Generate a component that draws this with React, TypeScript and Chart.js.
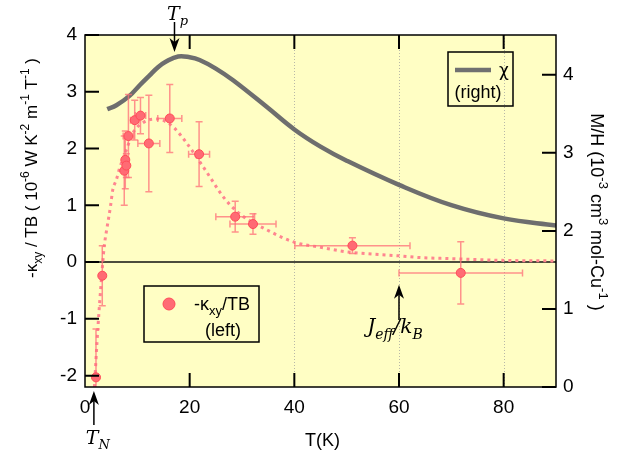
import { useEffect, useRef } from 'react';
import { Chart, registerables } from 'chart.js';
Chart.register(...registerables);

// -kappa_xy/TB data (left axis)
const kappaT = [2.1, 3.3, 7.5, 7.7, 7.9, 8.3, 9.5, 10.6, 12.2, 16.2, 21.8, 28.7, 32.1, 51.1, 71.8];
const kappaV = [-2.03, -0.24, 1.61, 1.8, 1.7, 2.22, 2.5, 2.58, 2.09, 2.53, 1.9, 0.8, 0.67, 0.29, -0.19];
const kappaErrY = [0.85, 0.53, 0.61, 0.51, 0.21, 0.73, 0.35, 0.32, 0.85, 0.6, 0.57, 0.27, 0.18, 0.14, 0.55];
const kappaErrX = [0.2, 0.2, 0.4, 0.4, 0.4, 1.0, 0.8, 1.0, 2.1, 2.3, 2.0, 3.7, 4.4, 11, 11.8];

// dotted guide curve (left axis)
const fitT = [1.8, 2.45, 3.4, 3.7, 4.2, 4.9, 5.3, 6.0, 6.6, 8, 9, 10, 11, 12, 14, 15.5, 17.1, 19.4, 23.8, 25.7, 27.7, 30, 34.7, 40, 45, 50, 55, 60, 64, 70, 80, 90];
const fitV = [-2.2, -1.18, 0, 0.3, 0.6, 1.0, 1.27, 1.45, 1.65, 2.0, 2.25, 2.38, 2.45, 2.5, 2.52, 2.47, 2.36, 2.1, 1.51, 1.24, 1.01, 0.82, 0.57, 0.35, 0.26, 0.18, 0.14, 0.11, 0.08, 0.06, 0.03, 0.02];

// chi = M/H (right axis)
const chiT = [4.25, 6, 8.5, 10.5, 12.3, 14, 15.5, 17.8, 20, 21.9, 25, 28.3, 34.7, 40, 45, 50, 60, 70, 80, 90];
const chiV = [3.56, 3.61, 3.73, 3.87, 3.99, 4.1, 4.17, 4.235, 4.225, 4.19, 4.08, 3.93, 3.59, 3.3, 3.08, 2.9, 2.59, 2.33, 2.16, 2.07];

const xTicks = [0, 20, 40, 60, 80];
const leftTicks = [-2, -1, 0, 1, 2, 3, 4];
const rightTicks = [0, 1, 2, 3, 4];
const gridLinesAt = [40, 60, 80];

const T_P = 17.1;
const T_N = 1.7;
const J_EFF = 60;

type Run = { t: string; s?: 'sup' | 'sub' };

function drawRuns(ctx: CanvasRenderingContext2D, runs: Run[], cx: number, by: number, angle: number, size: number, family: string, style = '', align: 'center' | 'left' = 'center') {
  ctx.save();
  ctx.translate(cx, by);
  ctx.rotate(angle);
  const small = Math.round(size * 0.7);
  const fontOf = (r: Run) => `${style} ${r.s ? small : size}px ${family}`;
  let total = 0;
  for (const r of runs) {
    ctx.font = fontOf(r);
    total += ctx.measureText(r.t).width;
  }
  let x = align === 'center' ? -total / 2 : 0;
  ctx.textBaseline = 'alphabetic';
  ctx.textAlign = 'left';
  ctx.fillStyle = '#000';
  for (const r of runs) {
    ctx.font = fontOf(r);
    const dy = r.s === 'sup' ? -size * 0.45 : r.s === 'sub' ? size * 0.28 : 0;
    ctx.fillText(r.t, x, dy);
    x += ctx.measureText(r.t).width;
  }
  ctx.restore();
}

function arrow(ctx: CanvasRenderingContext2D, x: number, yTail: number, yTip: number) {
  const dir = yTip > yTail ? 1 : -1;
  ctx.save();
  ctx.strokeStyle = '#000';
  ctx.fillStyle = '#000';
  ctx.lineWidth = 1.5;
  ctx.beginPath();
  ctx.moveTo(x, yTail);
  ctx.lineTo(x, yTip - dir * 10);
  ctx.stroke();
  ctx.beginPath();
  ctx.moveTo(x, yTip);
  ctx.lineTo(x - 5, yTip - dir * 14);
  ctx.lineTo(x, yTip - dir * 10);
  ctx.lineTo(x + 5, yTip - dir * 14);
  ctx.closePath();
  ctx.fill();
  ctx.restore();
}

const SANS = '"Liberation Sans", Arial, sans-serif';
const SERIF = '"DejaVu Serif", "Liberation Serif", serif';

const decor = {
  id: 'decor',
  beforeDatasetsDraw(chart: any) {
    const { ctx, chartArea: a, scales } = chart;
    const x = scales.x, y = scales.y;
    ctx.save();
    ctx.fillStyle = '#FFFEC4';
    ctx.fillRect(a.left, a.top, a.right - a.left, a.bottom - a.top);
    ctx.strokeStyle = '#b8b8a8';
    ctx.lineWidth = 1;
    ctx.setLineDash([1, 2]);
    for (const g of gridLinesAt) {
      const px = Math.round(x.getPixelForValue(g)) + 0.5;
      ctx.beginPath();
      ctx.moveTo(px, a.top);
      ctx.lineTo(px, a.bottom);
      ctx.stroke();
    }
    ctx.setLineDash([]);
    ctx.strokeStyle = '#111';
    ctx.lineWidth = 1.5;
    const y0 = y.getPixelForValue(0);
    ctx.beginPath();
    ctx.moveTo(a.left, y0);
    ctx.lineTo(a.right, y0);
    ctx.stroke();
    ctx.restore();
  },
  beforeDatasetDraw(chart: any, args: any) {
    if (args.index !== 0) return;
    const { ctx, chartArea: a, scales } = chart;
    const x = scales.x, y = scales.y;
    ctx.save();
    ctx.beginPath();
    ctx.rect(a.left, a.top, a.right - a.left, a.bottom - a.top);
    ctx.clip();
    ctx.strokeStyle = 'rgba(255,110,120,0.75)';
    ctx.lineWidth = 1.5;
    const cap = 3.5;
    for (let i = 0; i < kappaT.length; i++) {
      const px = x.getPixelForValue(kappaT[i]);
      const py = y.getPixelForValue(kappaV[i]);
      const yt = y.getPixelForValue(kappaV[i] + kappaErrY[i]);
      const yb = y.getPixelForValue(kappaV[i] - kappaErrY[i]);
      const xl = x.getPixelForValue(kappaT[i] - kappaErrX[i]);
      const xr = x.getPixelForValue(kappaT[i] + kappaErrX[i]);
      ctx.beginPath();
      ctx.moveTo(px, yt); ctx.lineTo(px, yb);
      ctx.moveTo(px - cap, yt); ctx.lineTo(px + cap, yt);
      ctx.moveTo(px - cap, yb); ctx.lineTo(px + cap, yb);
      ctx.moveTo(xl, py); ctx.lineTo(xr, py);
      ctx.moveTo(xl, py - cap); ctx.lineTo(xl, py + cap);
      ctx.moveTo(xr, py - cap); ctx.lineTo(xr, py + cap);
      ctx.stroke();
    }
    ctx.restore();
  },
  afterDraw(chart: any) {
    const { ctx, chartArea: a, scales } = chart;
    const x = scales.x, y = scales.y, y2 = scales.y2;
    ctx.save();
    ctx.strokeStyle = '#000';
    ctx.lineWidth = 1.5;
    ctx.strokeRect(a.left, a.top, a.right - a.left, a.bottom - a.top);
    ctx.lineWidth = 2;
    const tl = 14;
    ctx.beginPath();
    for (const t of xTicks) {
      if (t === 0) continue;
      const px = x.getPixelForValue(t);
      ctx.moveTo(px, a.top); ctx.lineTo(px, a.top + tl);
      ctx.moveTo(px, a.bottom); ctx.lineTo(px, a.bottom - tl);
    }
    for (const t of leftTicks) {
      const py = y.getPixelForValue(t);
      ctx.moveTo(a.left, py); ctx.lineTo(a.left + tl, py);
    }
    for (const t of rightTicks) {
      const py = y2.getPixelForValue(t);
      ctx.moveTo(a.right, py); ctx.lineTo(a.right - tl, py);
    }
    ctx.stroke();
    ctx.restore();

    const xp = x.getPixelForValue(T_P);
    arrow(ctx, xp, a.top - 13, a.top + 17);
    drawRuns(ctx, [{ t: 'T' }, { t: 'p', s: 'sub' }], xp + 3, a.top - 15, 0, 19, SERIF, 'italic');
    const xn = x.getPixelForValue(T_N);
    arrow(ctx, xn, a.bottom + 38, a.bottom + 4);
    drawRuns(ctx, [{ t: 'T' }, { t: 'N', s: 'sub' }], xn + 4, a.bottom + 57, 0, 19, SERIF, 'italic');
    const xj = x.getPixelForValue(J_EFF);
    arrow(ctx, xj, y.getPixelForValue(-1.02), y.getPixelForValue(-0.4));
    drawRuns(ctx, [{ t: 'J' }, { t: 'eff', s: 'sub' }, { t: '/k' }, { t: 'B', s: 'sub' }], xj - 4, y.getPixelForValue(-1.25), 0, 20, SERIF, 'italic');

    // legend: chi
    ctx.save();
    ctx.strokeStyle = '#000';
    ctx.lineWidth = 1.5;
    ctx.strokeRect(448, 52, 65, 54);
    ctx.strokeStyle = '#707070';
    ctx.lineWidth = 4.5;
    ctx.beginPath();
    ctx.moveTo(455, 70); ctx.lineTo(491, 70);
    ctx.stroke();
    ctx.fillStyle = '#000';
    ctx.font = `17px "DejaVu Sans", sans-serif`;
    ctx.textAlign = 'left';
    ctx.textBaseline = 'alphabetic';
    ctx.fillText('χ', 499, 76);
    ctx.font = `18px ${SANS}`;
    ctx.textAlign = 'center';
    ctx.fillText('(right)', 478, 98);
    // legend: kappa
    ctx.strokeStyle = '#000';
    ctx.lineWidth = 1.5;
    ctx.strokeRect(144, 286, 115, 56);
    ctx.fillStyle = '#FF6B74';
    ctx.strokeStyle = '#FF4B58';
    ctx.lineWidth = 1;
    ctx.beginPath();
    ctx.arc(169, 304, 6, 0, Math.PI * 2);
    ctx.fill();
    ctx.stroke();
    ctx.restore();
    drawRuns(ctx, [{ t: '-κ' }, { t: 'xy', s: 'sub' }, { t: '/TB' }], 194, 310, 0, 18, SANS, '', 'left');
    drawRuns(ctx, [{ t: '(left)' }], 223, 336, 0, 18, SANS);

    drawRuns(ctx, [{ t: 'T(K)' }], (a.left + a.right) / 2 + 2, 446, 0, 18, SANS);
    drawRuns(ctx, [
      { t: '-κ' }, { t: 'xy', s: 'sub' }, { t: ' / TB ( 10' }, { t: '-6', s: 'sup' },
      { t: ' W K' }, { t: '-2', s: 'sup' }, { t: ' m' }, { t: '-1', s: 'sup' },
      { t: ' T' }, { t: '-1', s: 'sup' }, { t: ' )' },
    ], 37, 168, -Math.PI / 2, 17, SANS);
    drawRuns(ctx, [
      { t: 'M/H (10' }, { t: '-3', s: 'sup' }, { t: ' cm' }, { t: '3', s: 'sup' },
      { t: ' mol-Cu' }, { t: '-1', s: 'sup' }, { t: ' )' },
    ], 591, 212, Math.PI / 2, 18, SANS);
  },
};

export default function App() {
  const ref = useRef<HTMLCanvasElement>(null);
  useEffect(() => {
    if (!ref.current) return;
    const chart = new Chart(ref.current, {
      type: 'scatter',
      data: {
        datasets: [
          {
            type: 'scatter',
            label: 'kappa',
            data: kappaT.map((t, i) => ({ x: t, y: kappaV[i] })),
            yAxisID: 'y',
            pointRadius: 4.5,
            pointBackgroundColor: '#FF6B74',
            pointBorderColor: '#FF4B58',
            pointBorderWidth: 1,
          },
          {
            type: 'line',
            label: 'fit',
            data: fitT.map((t, i) => ({ x: t, y: fitV[i] })),
            yAxisID: 'y',
            borderColor: '#FF8590',
            borderWidth: 3,
            borderDash: [3, 4],
            pointRadius: 0,
            cubicInterpolationMode: 'monotone',
            fill: false,
          },
          {
            type: 'line',
            label: 'chi',
            data: chiT.map((t, i) => ({ x: t, y: chiV[i] })),
            yAxisID: 'y2',
            borderColor: '#6E6E6E',
            borderWidth: 4.5,
            pointRadius: 0,
            tension: 0.4,
            fill: false,
          },
        ],
      } as any,
      options: {
        animation: false,
        responsive: false,
        maintainAspectRatio: false,
        layout: { padding: 0 },
        plugins: { legend: { display: false }, tooltip: { enabled: false } },
        scales: {
          x: {
            type: 'linear', position: 'bottom', min: 0, max: 90,
            afterBuildTicks: (s: any) => { s.ticks = xTicks.map((v) => ({ value: v })); },
            afterFit: (s: any) => { s.height = 63; },
            grid: { display: false, drawTicks: false },
            border: { display: false },
            ticks: { padding: 9, color: '#000', font: { size: 19, family: SANS }, maxRotation: 0 },
          },
          xTop: {
            type: 'linear', position: 'top', min: 0, max: 90,
            afterFit: (s: any) => { s.height = 35; },
            grid: { display: false, drawTicks: false },
            border: { display: false },
            ticks: { display: false },
          },
          y: {
            type: 'linear', position: 'left', min: -2.2, max: 4,
            afterBuildTicks: (s: any) => { s.ticks = leftTicks.map((v) => ({ value: v })); },
            afterFit: (s: any) => { s.width = 85; },
            grid: { display: false, drawTicks: false },
            border: { display: false },
            ticks: { padding: 8, color: '#000', font: { size: 19, family: SANS } },
          },
          y2: {
            type: 'linear', position: 'right', min: 0, max: 4.51,
            afterBuildTicks: (s: any) => { s.ticks = rightTicks.map((v) => ({ value: v })); },
            afterFit: (s: any) => { s.width = 71; },
            grid: { display: false, drawTicks: false },
            border: { display: false },
            ticks: { padding: 7, color: '#000', font: { size: 19, family: SANS } },
          },
        } as any,
      },
      plugins: [decor],
    });
    return () => chart.destroy();
  }, []);
  return (
    <div style={{ position: 'fixed', left: 0, top: 0, width: 627, height: 450, background: '#fff' }}>
      <canvas ref={ref} width={627} height={450} style={{ width: 627, height: 450 }} />
    </div>
  );
}
